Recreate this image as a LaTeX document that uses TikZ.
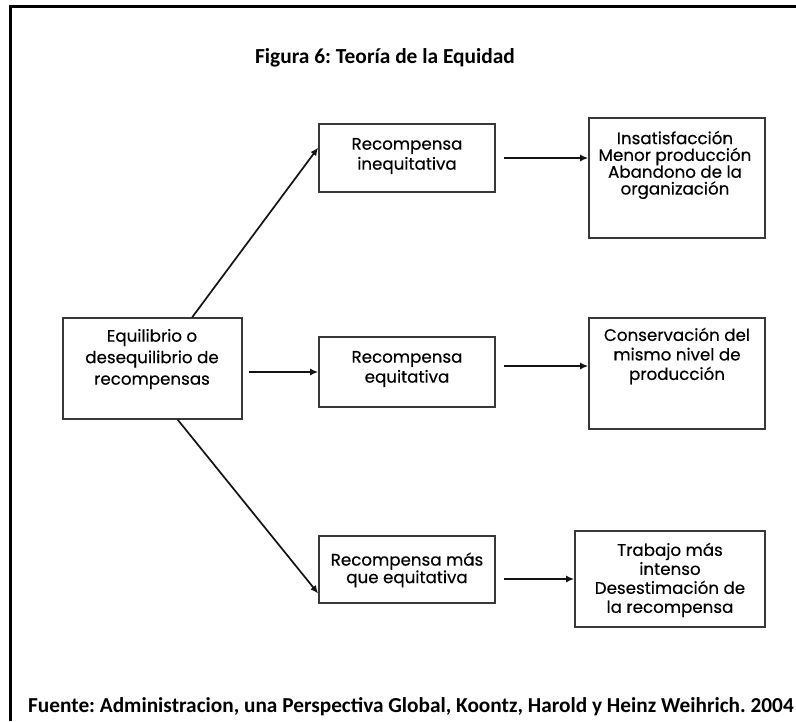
\documentclass[tikz,border=0pt]{standalone}
\usepackage{fontspec}
\setmainfont{Poppins}
\newfontfamily\boxfont{Poppins}[FakeBold=0.35]
\newfontfamily\capfont{Carlito}
\usetikzlibrary{arrows.meta,calc}

\tikzset{
  box/.style={draw=black!78, line width=1.6pt, inner sep=0pt, fill=white},
  boxtext/.style={align=center, inner sep=0pt, font=\boxfont\fontsize{16.7}{#1}\selectfont},
  arr/.style={draw=black!92, line width=1.7pt, -{Latex[length=8pt,width=7pt]}},
  heading/.style={inner sep=0pt, font=\capfont\bfseries\fontsize{#1}{24}\selectfont},
}

\begin{document}
\frenchspacing
\begin{tikzpicture}[x=1pt, y=-1pt]
  \useasboundingbox (0,0) rectangle (796,721);
  \fill[white] (0,0) rectangle (796,721);

  % outer frame (left and top edges)
  \draw[line width=3pt, black] (10.5,721) -- (10.5,6.5) -- (796,6.5);

  % heading and source line
  \node[heading=21.4, anchor=base] (title) at (385,63) {Figura 6: Teoría de la Equidad};
  \node[heading=21.3, anchor=base west] (source) at (28,712)
    {Fuente: Administracion, una Perspectiva Global, Koontz, Harold y Heinz Weihrich. 2004};

  % boxes
  \node[box, minimum width=179pt, minimum height=101pt] (L)  at (152.5,368.5) {};
  \node[box, minimum width=176pt, minimum height=68pt]  (IM) at (407,158) {};
  \node[box, minimum width=176pt, minimum height=70pt]  (EM) at (407,372) {};
  \node[box, minimum width=176pt, minimum height=67pt]  (BM) at (407,569.5) {};
  \node[box, minimum width=176pt, minimum height=120pt] (IR) at (677,178) {};
  \node[box, minimum width=176pt, minimum height=111pt] (ER) at (677,373.5) {};
  \node[box, minimum width=190pt, minimum height=96pt]  (BR) at (670,579) {};

  % box texts
  \node[boxtext=21.5] (Lt)  at (152,359) {Equilibrio o\\desequilibrio de\\recompensas};
  \node[boxtext=20]   (IMt) at (407,156) {Recompensa\\inequitativa};
  \node[boxtext=20]   (EMt) at (407,369) {Recompensa\\equitativa};
  \node[boxtext=17.5] (BMt) at (407,570) {Recompensa más\\que equitativa};
  \node[boxtext=16.8] (IRt) at (675,165) {Insatisfacción\\Menor producción\\Abandono de la\\organización};
  \node[boxtext=19.5] (ERt) at (677,356) {Conservación del\\mismo nivel de\\producción};
  \node[boxtext=19]   (BRt) at (670,580) {Trabajo más\\intenso\\Desestimación de\\la recompensa};

  % connectors
  \draw[arr] ($(L.north west)!0.72!(L.north east)$) -- ($(IM.north west)!0.35!(IM.south west)$);
  \draw[arr] ($(L.south west)!0.64!(L.south east)$) -- ($(BM.north west)!0.85!(BM.south west)$);
  \draw[arr] ([xshift=6pt]L.east |- EM.west) -- (EM.west);

  \draw[arr] ([xshift=8pt]IM.east) -- (IM.east -| IR.west);
  \coordinate (ein) at ([yshift=7.5pt]ER.west);
  \draw[arr] ([xshift=8pt]EM.east |- ein) -- (ein);
  \draw[arr] ([xshift=8pt]BM.east |- BR.west) -- (BR.west);
\end{tikzpicture}
\end{document}
